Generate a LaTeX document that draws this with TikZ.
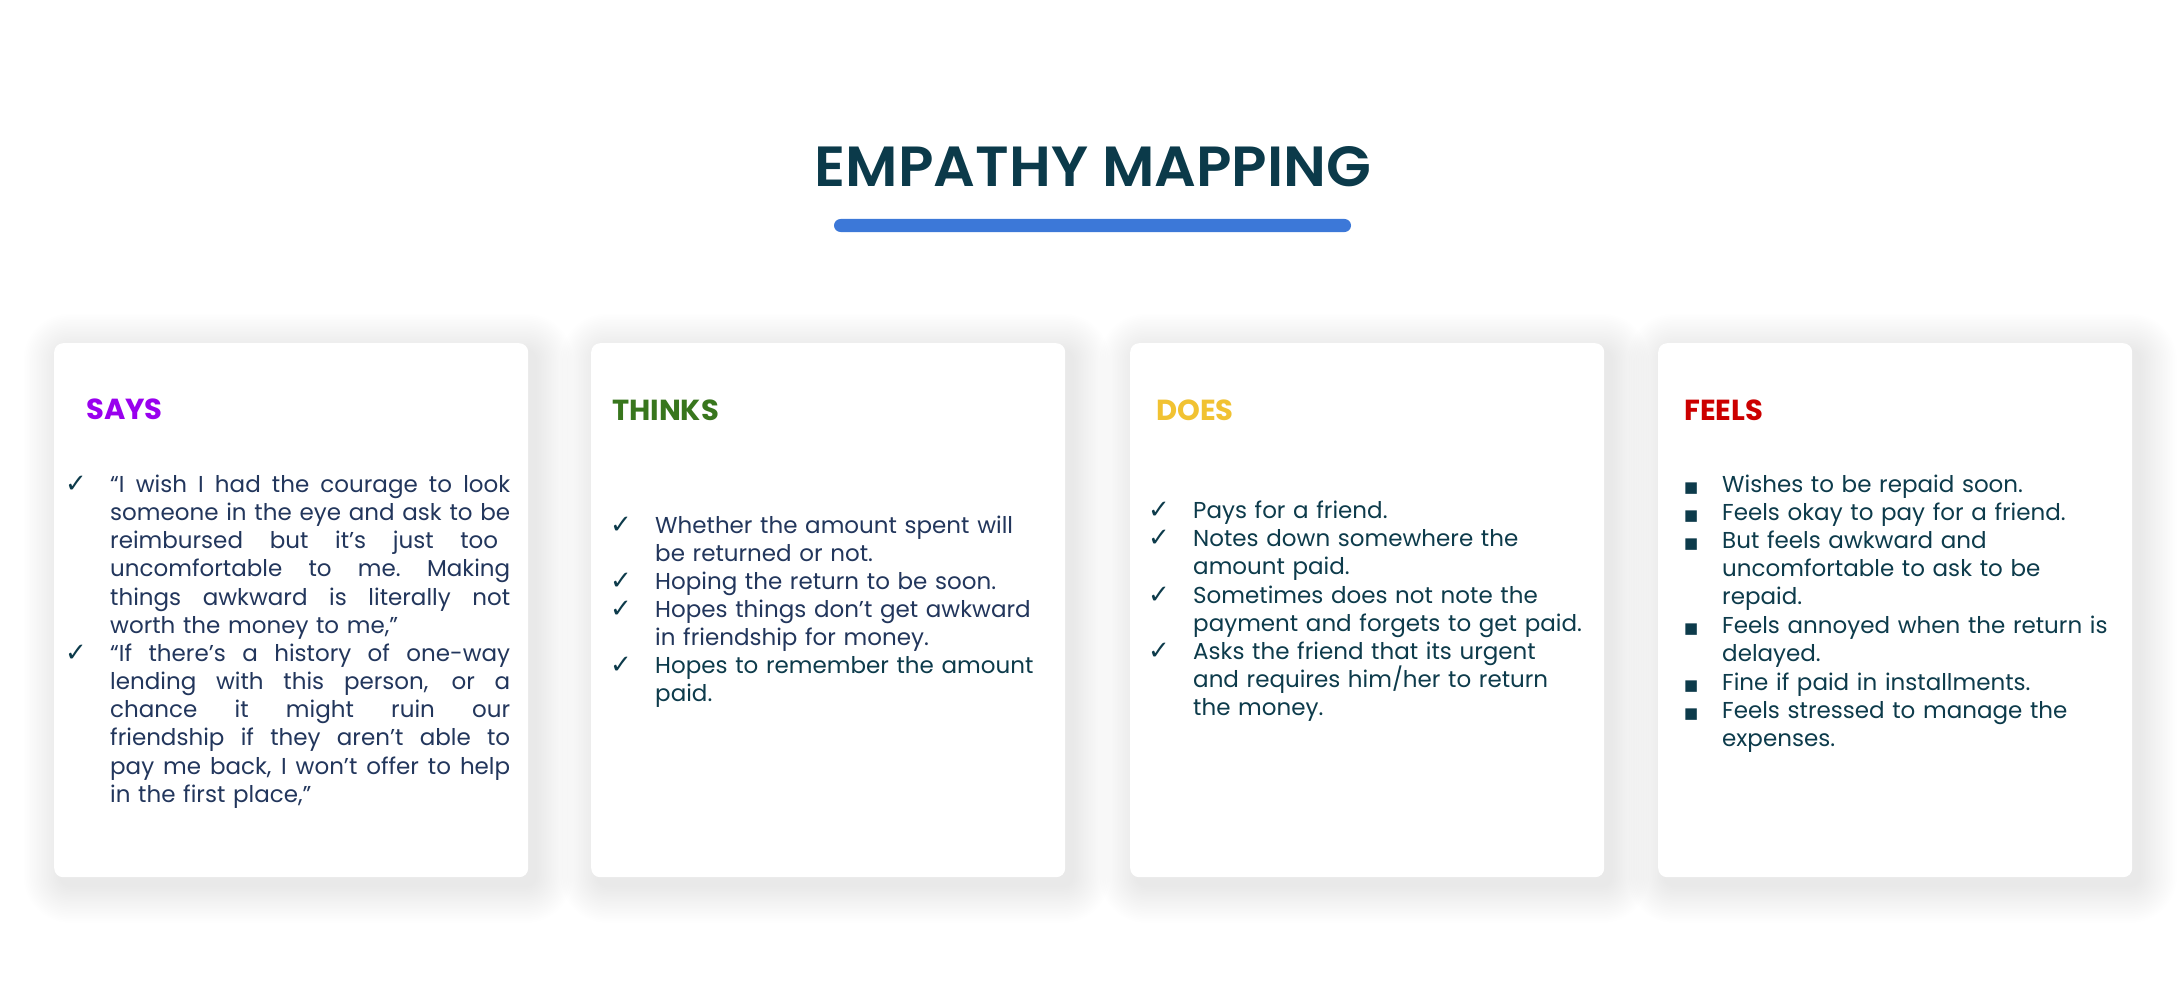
\documentclass[tikz,border=0pt]{standalone}
\usepackage{fontspec}
\setmainfont{Poppins}
\newfontfamily\symfont{DejaVu Sans}
\newfontface\titlefont{Poppins SemiBold}
\usetikzlibrary{backgrounds}
\definecolor{titlec}{HTML}{0B3A4A}
\definecolor{barc}{HTML}{3C78D8}
\definecolor{navy}{HTML}{22365C}
\definecolor{tealc}{HTML}{0D3B4B}
\definecolor{saysc}{HTML}{9900EE}
\definecolor{thinksc}{HTML}{38761D}
\definecolor{doesc}{HTML}{F1C232}
\definecolor{feelsc}{HTML}{CC0000}
\newcommand{\jl}[1]{{\spaceskip=.28em plus 1fil minus .1em\xspaceskip=\spaceskip\makebox[400pt][s]{#1}}}
\begin{document}
\begin{tikzpicture}[x=1pt,y=1pt,
  card/.style={fill=white, rounded corners=9pt, minimum width=474pt, minimum height=534pt,
    anchor=north west, inner sep=0pt},
  head/.style={anchor=base west, inner sep=0pt, font=\fontsize{29}{34}\selectfont\bfseries},
  itemtext/.style={anchor=base west, inner sep=0pt, text width=#1, align=left,
    font=\fontsize{23}{28.3}\selectfont},
  chk/.style={anchor=base west, inner sep=0pt, text=tealc, font=\symfont\fontsize{26}{28}\selectfont},
  bul/.style={anchor=base west, inner sep=0pt, text=tealc, font=\symfont\fontsize{15}{18}\selectfont},
  shadowlayer/.style={fill=black, opacity=0.0042}
]
\useasboundingbox (0,0) rectangle (2184,-1003);

% title
\node[anchor=base, inner sep=0pt, text=titlec] (title) at (1093,-186)
  {\resizebox{556pt}{40pt}{\titlefont EMPATHY MAPPING}};
\fill[barc, rounded corners=6.5pt] (834,-219) rectangle (1351,-232);

% cards
\node[card] (says) at (54,-343) {};
\node[card] (thinks) at (591,-343) {};
\node[card] (does) at (1130,-343) {};
\node[card] (feels) at (1658,-343) {};

\begin{scope}[on background layer]
  \fill[white] (0,0) rectangle (2184,-1003);
  \foreach \c in {says,thinks,does,feels}{
    \foreach \k in {1,...,22}{
      \fill[shadowlayer, rounded corners={(9+1.7*\k)*1pt}]
        ([xshift={(7-1.7*\k)*1pt}, yshift={(-8+1.7*\k)*1pt}]\c.north west)
        rectangle ([xshift={(7+1.7*\k)*1pt}, yshift={(-8-1.7*\k)*1pt}]\c.south east);
    }
  }
\end{scope}

% SAYS
\node[head, text=saysc] (saysh) at (86,-419) {SAYS};
\node[chk] (s1c) at (65,-492) {✓};
\node[itemtext=400pt, text=navy] (s1) at (110,-492)
  {\jl{“I wish I had the courage to look}\\
   \jl{someone in the eye and ask to be}\\
   \jl{reimbursed but it’s just too\hspace{12pt}}\\
   \jl{uncomfortable to me. Making}\\
   \jl{things awkward is literally not}\\
   worth the money to me,”};
\node[chk] (s2c) at (65,-661) {✓};
\node[itemtext=400pt, text=navy] (s2) at (110,-661)
  {\jl{“If there’s a history of one-way}\\
   \jl{lending with this person, or a}\\
   \jl{chance it might ruin our}\\
   \jl{friendship if they aren’t able to}\\
   \jl{pay me back, I won’t offer to help}\\
   in the first place,”};

% THINKS
\node[head, text=thinksc] (thinksh) at (612,-420) {THINKS};
\node[chk] (t1c) at (610,-533) {✓};
\node[itemtext=400pt, text=navy] (t1) at (655,-533)
  {Whether the amount spent will\\ be returned or not.};
\node[chk] (t2c) at (610,-589) {✓};
\node[itemtext=400pt, text=navy] (t2) at (655,-589)
  {Hoping the return to be soon.};
\node[chk] (t3c) at (610,-617) {✓};
\node[itemtext=400pt, text=navy] (t3) at (655,-617)
  {Hopes things don’t get awkward\\ in friendship for money.};
\node[chk] (t4c) at (610,-673) {✓};
\node[itemtext=400pt, text=tealc] (t4) at (655,-673)
  {Hopes to remember the amount\\ paid.};

% DOES
\node[head, text=doesc] (doesh) at (1156,-420) {DOES};
\node[chk] (d1c) at (1148,-518) {✓};
\node[itemtext=400pt, text=tealc] (d1) at (1193,-518)
  {Pays for a friend.};
\node[chk] (d2c) at (1148,-546) {✓};
\node[itemtext=400pt, text=tealc] (d2) at (1193,-546)
  {Notes down somewhere the\\ amount paid.};
\node[chk] (d3c) at (1148,-603) {✓};
\node[itemtext=400pt, text=tealc] (d3) at (1193,-603)
  {Sometimes does not note the\\ payment and forgets to get paid.};
\node[chk] (d4c) at (1148,-659) {✓};
\node[itemtext=400pt, text=tealc] (d4) at (1193,-659)
  {Asks the friend that its urgent\\ and requires him/her to return\\ the money.};

% FEELS
\node[head, text=feelsc] (feelsh) at (1684,-420) {FEELS};
\node[bul] (f1b) at (1684,-492) {■};
\node[itemtext=400pt, text=tealc] (f1) at (1722,-492)
  {Wishes to be repaid soon.};
\node[bul] (f2b) at (1684,-520) {■};
\node[itemtext=400pt, text=tealc] (f2) at (1722,-520)
  {Feels okay to pay for a friend.};
\node[bul] (f3b) at (1684,-548) {■};
\node[itemtext=400pt, text=tealc] (f3) at (1722,-548)
  {But feels awkward and\\ uncomfortable to ask to be\\ repaid.};
\node[bul] (f4b) at (1684,-633) {■};
\node[itemtext=400pt, text=tealc] (f4) at (1722,-633)
  {Feels annoyed when the return is\\ delayed.};
\node[bul] (f5b) at (1684,-690) {■};
\node[itemtext=400pt, text=tealc] (f5) at (1722,-690)
  {Fine if paid in installments.};
\node[bul] (f6b) at (1684,-718) {■};
\node[itemtext=400pt, text=tealc] (f6) at (1722,-718)
  {Feels stressed to manage the\\ expenses.};
\end{tikzpicture}
\end{document}
